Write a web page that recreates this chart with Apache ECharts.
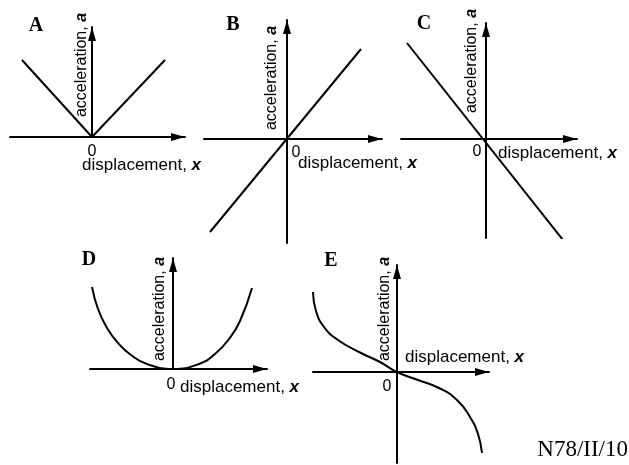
<!DOCTYPE html>
<html>
<head>
<meta charset="utf-8">
<script src="https://cdn.jsdelivr.net/npm/echarts@6/dist/echarts.min.js"></script>
<style>
html,body{margin:0;padding:0;background:#fff;}
#chart{width:629px;height:465px;}
</style>
</head>
<body>
<div id="chart"></div>
<script>
// Panel letters and texts
const panelLetters = ['A', 'B', 'C', 'D', 'E'];
const xAxisText = 'displacement, ';
const xAxisVar = 'x';
const yAxisText = 'acceleration, ';
const yAxisVar = 'a';
const originText = '0';
const sourceCode = 'N78/II/10';

// Curves: [displacement, acceleration] (arbitrary units)
const graphA = [[-70, 77], [0, 0], [73, 77]];
const graphB = [[-77, -93], [74, 90]];
const graphC = [[-79, 96], [77, -101]];
const graphD = [[-81, 82], [-75, 60], [-66, 41], [-55, 26], [-42, 14], [-26, 5], [0, 0],
                [26, 5], [42, 15], [56, 30], [67, 48], [79, 81]];
const graphE = [[-84, 80], [-81, 61], [-73, 45], [-59, 32], [-38, 20], [-17, 10], [0, 0],
                [21, -8], [42, -16], [60, -28], [73, -45], [81, -62], [85, -81]];

// Axis ranges for each panel [xmin, xmax, ymin, ymax]
const rangeA = [-82, 93, 0, 110];
const rangeB = [-83, 95, -104, 119];
const rangeC = [-85, 91, -99, 116];
const rangeD = [-83, 94, 0, 111];
const rangeE = [-84, 92, -91, 107];

const graphs = [graphA, graphB, graphC, graphD, graphE];
const ranges = [rangeA, rangeB, rangeC, rangeD, rangeE];
const smoothFlags = [false, false, false, true, true];

// layout (origin pixel of each panel)
const origins = [[92, 137], [287, 139], [486, 139], [173, 369], [397, 372]];

const grids = [], xAxes = [], yAxes = [], series = [];
const axisLineCfg = {
  show: true, onZero: true,
  symbol: ['none', 'triangle'], symbolSize: [8, 14], symbolOffset: [0, -7],
  lineStyle: { color: '#000', width: 2 }
};
graphs.forEach(function (g, i) {
  const r = ranges[i], o = origins[i];
  grids.push({ left: o[0] + r[0], top: o[1] - r[3], width: r[1] - r[0], height: r[3] - r[2], containLabel: false });
  xAxes.push({ gridIndex: i, type: 'value', min: r[0], max: r[1], axisLine: axisLineCfg,
    axisTick: { show: false }, axisLabel: { show: false }, splitLine: { show: false } });
  yAxes.push({ gridIndex: i, type: 'value', min: r[2], max: r[3], axisLine: axisLineCfg,
    axisTick: { show: false }, axisLabel: { show: false }, splitLine: { show: false } });
  series.push({ type: 'line', xAxisIndex: i, yAxisIndex: i, data: g, showSymbol: false,
    smooth: smoothFlags[i] ? 0.5 : false,
    lineStyle: { color: '#000', width: 2 }, animation: false, silent: true, z: 3 });
});

const sans = '"Liberation Sans", Arial, Helvetica, sans-serif';
const serif = '"Liberation Serif", "Times New Roman", serif';

const letterPos = [[36, 26], [233, 25], [424, 24], [89, 260], [331, 261]];
const zeroPos = [[92, 152], [296, 153], [477, 152], [171, 385], [387, 387]];
const xLabelPos = [[82, 165], [298, 163], [498, 153], [180, 387], [405, 357]];
const yLabelPos = [[82, 65], [272, 78], [472, 61], [160, 309], [385, 309]];

const graphic = [];
panelLetters.forEach(function (L, i) {
  graphic.push({ type: 'text', x: letterPos[i][0], y: letterPos[i][1],
    style: { text: L, font: 'bold 20px ' + serif, fill: '#000', align: 'center', verticalAlign: 'middle' } });
  graphic.push({ type: 'text', x: zeroPos[i][0], y: zeroPos[i][1],
    style: { text: originText, font: '16px ' + sans, fill: '#000', align: 'center', verticalAlign: 'middle' } });
  graphic.push({ type: 'text', x: xLabelPos[i][0], y: xLabelPos[i][1],
    style: { text: '{n|' + xAxisText + '}{v|' + xAxisVar + '}', align: 'left', verticalAlign: 'middle',
      rich: { n: { font: '17px ' + sans, fill: '#000' }, v: { font: 'italic bold 17px ' + sans, fill: '#000' } } } });
  graphic.push({ type: 'text', x: yLabelPos[i][0], y: yLabelPos[i][1], rotation: Math.PI / 2,
    style: { text: '{n|' + yAxisText + '}{v|' + yAxisVar + '}', align: 'center', verticalAlign: 'middle',
      rich: { n: { font: '16px ' + sans, fill: '#000' }, v: { font: 'italic bold 16px ' + sans, fill: '#000' } } } });
});
graphic.push({ type: 'text', right: 1, top: 438,
  style: { text: sourceCode, font: '23px ' + serif, fill: '#000' } });

const chart = echarts.init(document.getElementById('chart'), null, { renderer: 'canvas' });
chart.setOption({
  backgroundColor: '#fff',
  animation: false,
  grid: grids,
  xAxis: xAxes,
  yAxis: yAxes,
  series: series,
  graphic: graphic
});
</script>
</body>
</html>
